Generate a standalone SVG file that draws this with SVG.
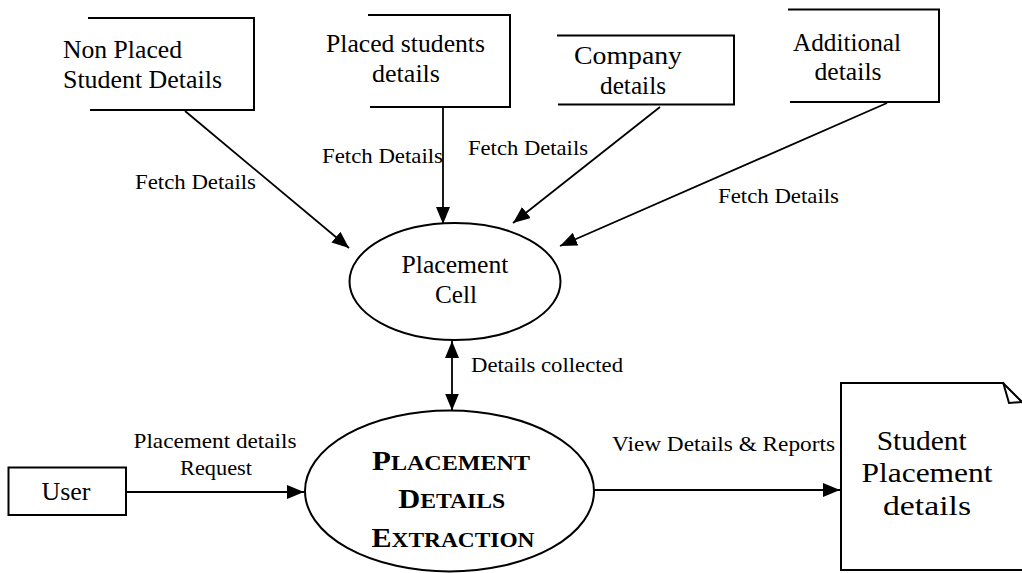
<svg xmlns="http://www.w3.org/2000/svg" width="1022" height="573" viewBox="0 0 1022 573">
  <defs>
    <style>
      .shape { fill: none; stroke: #000; stroke-width: 2; }
      .line { fill: none; stroke: #000; stroke-width: 1.8; }
      text { font-family: "Liberation Serif", "Times New Roman", serif; fill: #000; }
      .node { font-size: 25px; }
      .doc { font-size: 27px; }
      .label { font-size: 22px; }
      .title { font-weight: bold; }
      .mid { text-anchor: middle; }
    </style>
    <marker id="arrow" viewBox="0 0 17 14" refX="17" refY="7" markerWidth="17" markerHeight="14" markerUnits="userSpaceOnUse" orient="auto-start-reverse">
      <path d="M0,0 L17,7 L0,14 Z" fill="#000"/>
    </marker>
  </defs>
  <rect width="1022" height="573" fill="#fff"/>

  <!-- data stores (open on the left) -->
  <g id="non-placed">
    <path class="shape" d="M88,18 H254 V110 H90"/>
    <text class="node" x="63" y="58" textLength="119" lengthAdjust="spacingAndGlyphs">Non Placed</text>
    <text class="node" x="63" y="88" textLength="159" lengthAdjust="spacingAndGlyphs">Student Details</text>
  </g>
  <g id="placed">
    <path class="shape" d="M368,15 H510 V107 H370"/>
    <text class="node mid" x="405.5" y="52" textLength="159" lengthAdjust="spacingAndGlyphs">Placed students</text>
    <text class="node mid" x="406" y="82" textLength="68" lengthAdjust="spacingAndGlyphs">details</text>
  </g>
  <g id="company">
    <path class="shape" d="M557,35.5 H734 V104.5 H558"/>
    <text class="node mid" x="628" y="64" textLength="108" lengthAdjust="spacingAndGlyphs">Company</text>
    <text class="node mid" x="633" y="94" textLength="66" lengthAdjust="spacingAndGlyphs">details</text>
  </g>
  <g id="additional">
    <path class="shape" d="M788,9.5 H939 V102 H790"/>
    <text class="node mid" x="847" y="51" textLength="108" lengthAdjust="spacingAndGlyphs">Additional</text>
    <text class="node mid" x="848" y="80" textLength="67" lengthAdjust="spacingAndGlyphs">details</text>
  </g>

  <!-- processes -->
  <g id="placement-cell">
    <ellipse class="shape" cx="455" cy="281.5" rx="105.5" ry="58.5"/>
    <text class="node mid" x="455" y="273" textLength="107" lengthAdjust="spacingAndGlyphs">Placement</text>
    <text class="node mid" x="456" y="303" textLength="42" lengthAdjust="spacingAndGlyphs">Cell</text>
  </g>
  <g id="extraction">
    <ellipse class="shape" cx="449.5" cy="491" rx="144.5" ry="80.5"/>
    <text class="title mid" x="451" y="470" textLength="158" lengthAdjust="spacingAndGlyphs"><tspan font-size="27">P</tspan><tspan font-size="21">LACEMENT</tspan></text>
    <text class="title mid" x="451.7" y="508" textLength="107" lengthAdjust="spacingAndGlyphs"><tspan font-size="27">D</tspan><tspan font-size="21">ETAILS</tspan></text>
    <text class="title mid" x="453" y="547" textLength="163" lengthAdjust="spacingAndGlyphs"><tspan font-size="27">E</tspan><tspan font-size="21">XTRACTION</tspan></text>
  </g>

  <!-- external entity -->
  <g id="user">
    <rect class="shape" x="8.5" y="467.5" width="117.5" height="47.5"/>
    <text class="node mid" x="66" y="500" textLength="49" lengthAdjust="spacingAndGlyphs">User</text>
  </g>

  <!-- output document with folded corner -->
  <g id="report">
    <path class="shape" d="M841,383 H1003 L1025,405 V570 H841 Z"/>
    <path class="shape" d="M1003,382 L1009,403 L1022,402"/>
    <text class="doc mid" x="921.7" y="450" textLength="90" lengthAdjust="spacingAndGlyphs">Student</text>
    <text class="doc mid" x="927" y="482" textLength="131" lengthAdjust="spacingAndGlyphs">Placement</text>
    <text class="doc mid" x="927" y="515" textLength="88" lengthAdjust="spacingAndGlyphs">details</text>
  </g>

  <!-- data flows -->
  <g id="connectors">
    <line class="line" x1="185" y1="111" x2="349" y2="248" marker-end="url(#arrow)"/>
    <line class="line" x1="443" y1="107" x2="443" y2="224" marker-end="url(#arrow)"/>
    <line class="line" x1="660" y1="107" x2="513" y2="223" marker-end="url(#arrow)"/>
    <line class="line" x1="887" y1="103" x2="560" y2="246" marker-end="url(#arrow)"/>
    <line class="line" x1="452" y1="341" x2="452" y2="410.5" marker-start="url(#arrow)" marker-end="url(#arrow)"/>
    <line class="line" x1="126" y1="492" x2="304" y2="492" marker-end="url(#arrow)"/>
    <line class="line" x1="594" y1="490" x2="840" y2="490" marker-end="url(#arrow)"/>

    <text class="label" x="135" y="189" textLength="121" lengthAdjust="spacingAndGlyphs">Fetch Details</text>
    <text class="label" x="322" y="163" textLength="121" lengthAdjust="spacingAndGlyphs">Fetch Details</text>
    <text class="label" x="468" y="155" textLength="120" lengthAdjust="spacingAndGlyphs">Fetch Details</text>
    <text class="label" x="718" y="203" textLength="121" lengthAdjust="spacingAndGlyphs">Fetch Details</text>
    <text class="label" x="471" y="372" textLength="152" lengthAdjust="spacingAndGlyphs">Details collected</text>
    <text class="label mid" x="215" y="448" textLength="163" lengthAdjust="spacingAndGlyphs">Placement details</text>
    <text class="label mid" x="216" y="475" textLength="72" lengthAdjust="spacingAndGlyphs">Request</text>
    <text class="label" x="612" y="451" textLength="223" lengthAdjust="spacingAndGlyphs">View Details &amp; Reports</text>
  </g>
</svg>
